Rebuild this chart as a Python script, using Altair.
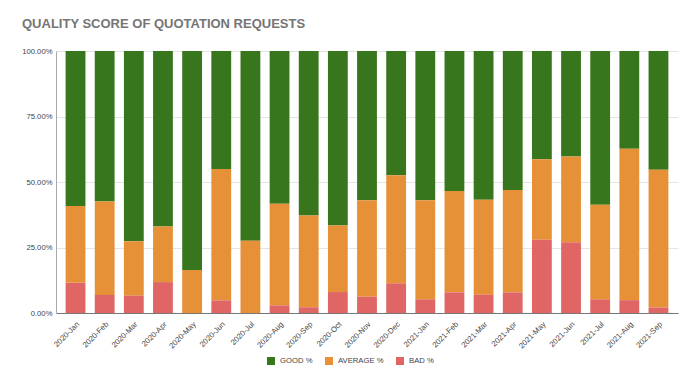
import altair as alt
import pandas as pd

months = ["2020-Jan", "2020-Feb", "2020-Mar", "2020-Apr", "2020-May", "2020-Jun",
          "2020-Jul", "2020-Aug", "2020-Sep", "2020-Oct", "2020-Nov", "2020-Dec",
          "2021-Jan", "2021-Feb", "2021-Mar", "2021-Apr", "2021-May", "2021-Jun",
          "2021-Jul", "2021-Aug", "2021-Sep"]
good = [59.2, 57.4, 72.6, 67.0, 83.6, 45.0, 72.4, 58.3, 62.8, 66.6, 57.0, 47.4,
        57.0, 53.4, 56.8, 53.1, 41.3, 40.3, 58.7, 37.3, 45.3]
average = [29.3, 35.7, 20.8, 21.2, 16.4, 50.2, 27.6, 38.8, 35.0, 25.4, 36.8, 41.3,
           37.8, 38.7, 36.2, 39.0, 30.7, 32.7, 36.1, 57.8, 52.6]
bad = [11.5, 6.9, 6.6, 11.8, 0.0, 4.8, 0.0, 2.9, 2.2, 8.0, 6.2, 11.3,
       5.2, 7.9, 7.0, 7.9, 28.0, 27.0, 5.2, 4.9, 2.1]

series = ["GOOD %", "AVERAGE %", "BAD %"]
colors = ["#38761d", "#e69138", "#e06666"]
stack_rank = {"BAD %": 0, "AVERAGE %": 1, "GOOD %": 2}

rows = []
for name, vals in zip(series, [good, average, bad]):
    for m, v in zip(months, vals):
        rows.append({"month": m, "series": name, "value": v, "rank": stack_rank[name]})
df = pd.DataFrame(rows)

FONT = "Liberation Sans, Arial, sans-serif"
FS = 7.7

chart = alt.Chart(df).mark_bar().encode(
    x=alt.X("month:N", sort=months, title=None,
            scale=alt.Scale(paddingInner=0.32, paddingOuter=0.33),
            axis=alt.Axis(labelAngle=-45, ticks=False, labelFontSize=FS,
                          labelColor="#444444", domainColor="#777777",
                          labelPadding=7, labelFont=FONT)),
    y=alt.Y("value:Q", stack="normalize", title=None,
            axis=alt.Axis(values=[0, 0.25, 0.5, 0.75, 1],
                          labelExpr="format(datum.value, '.2%')",
                          labelFontSize=FS, labelColor="#444444", ticks=False,
                          labelPadding=4, domainColor="#aaaaaa",
                          gridColor="#e4e4e4", labelFont=FONT)),
    color=alt.Color("series:N", scale=alt.Scale(domain=series, range=colors),
                    legend=alt.Legend(title=None, orient="none", direction="horizontal",
                                      legendX=211, legendY=306,
                                      symbolType="square", symbolSize=64,
                                      symbolStrokeWidth=0, labelFontSize=FS,
                                      labelColor="#444444", labelOffset=5,
                                      columnPadding=12, labelFont=FONT)),
    order=alt.Order("rank:Q", sort="ascending"),
).properties(
    width=622,
    height=262,
    padding={"left": 48, "top": 43, "right": 14, "bottom": 67},
    autosize=alt.AutoSizeParams(type="none"),
    title=alt.TitleParams("QUALITY SCORE OF QUOTATION REQUESTS", anchor="start",
                          frame="group", fontSize=13, fontWeight="bold",
                          color="#757575", font=FONT, dx=-34, offset=16),
).configure_view(stroke=None)

chart.save("out.html", embed_options={"renderer": "svg", "actions": False})
